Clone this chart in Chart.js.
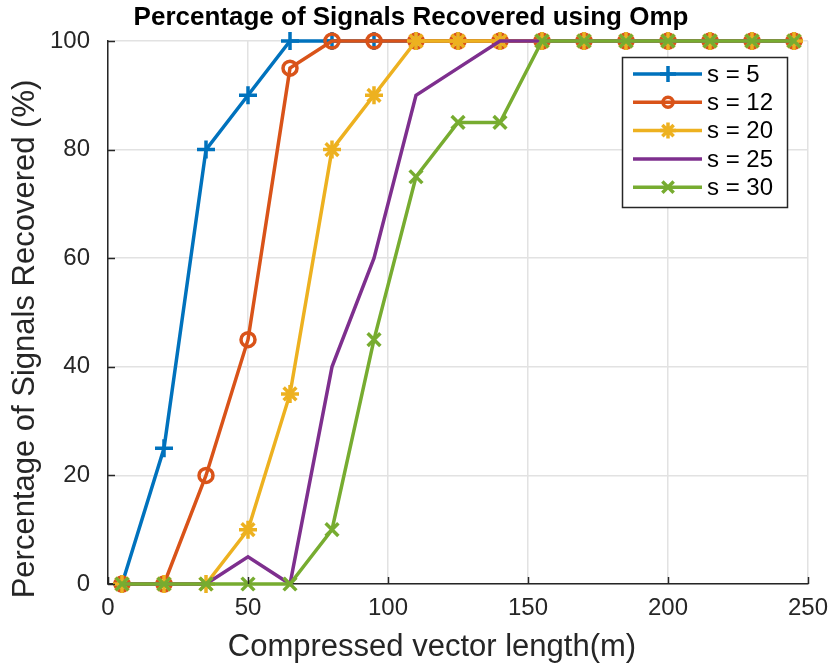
<!DOCTYPE html>
<html>
<head>
<meta charset="utf-8">
<script src="https://cdn.jsdelivr.net/npm/chart.js@4.4.0/dist/chart.umd.min.js"></script>
<style>
  html, body { margin: 0; padding: 0; background: #fff; }
  #wrap { width: 828px; height: 668px; position: relative; }
</style>
</head>
<body>
<div id="wrap"><canvas id="chart" width="828" height="668"></canvas></div>
<script>
// compressed vector length (m)
const mValues = [5, 20, 35, 50, 65, 80, 95, 110, 125, 140, 155, 170, 185, 200, 215, 230, 245];

// percentage of signals recovered, one array per sparsity
const s5  = [0, 25, 80, 90, 100, 100, 100, 100, 100, 100, 100, 100, 100, 100, 100, 100, 100];
const s12 = [0, 0, 20, 45, 95, 100, 100, 100, 100, 100, 100, 100, 100, 100, 100, 100, 100];
const s20 = [0, 0, 0, 10, 35, 80, 90, 100, 100, 100, 100, 100, 100, 100, 100, 100, 100];
const s25 = [0, 0, 0, 5, 0, 40, 60, 90, 95, 100, 100, 100, 100, 100, 100, 100, 100];
const s30 = [0, 0, 0, 0, 0, 10, 45, 75, 85, 85, 100, 100, 100, 100, 100, 100, 100];

const seriesLabels = ['s = 5', 's = 12', 's = 20', 's = 25', 's = 30'];
const seriesData = [s5, s12, s20, s25, s30];
const seriesColors = ['#0072BD', '#D95319', '#EDB120', '#7E2F8E', '#77AC30'];
const seriesMarkers = ['cross', 'circle', 'star', 'line', 'crossRot'];
const seriesRadius = [9, 7, 9, 0, 9];

const xTicks = [0, 50, 100, 150, 200, 250];
const yTicks = [0, 20, 40, 60, 80, 100];

const FONT = '"Liberation Sans", Arial, Helvetica, sans-serif';
const AXIS_COLOR = '#262626';

const datasets = seriesData.map((vals, i) => ({
  label: seriesLabels[i],
  data: vals.map((v, k) => ({ x: mValues[k], y: v })),
  borderColor: seriesColors[i],
  backgroundColor: 'rgba(0,0,0,0)',
  borderWidth: 3.5,
  pointStyle: seriesMarkers[i],
  pointRadius: seriesRadius[i],
  pointBorderWidth: 3.5,
  pointBorderColor: seriesColors[i],
  pointBackgroundColor: 'rgba(0,0,0,0)',
  pointHoverRadius: seriesRadius[i],
  tension: 0,
  clip: false,
  order: seriesData.length - 1 - i   // later series on top, like MATLAB
}));

// titles, inward ticks and the boxed legend
const decorations = {
  id: 'decorations',
  afterDatasetsDraw(chart) {
    const { ctx, chartArea, scales } = chart;
    const x = scales.x, y = scales.y;
    ctx.save();

    // inward tick marks
    ctx.strokeStyle = AXIS_COLOR;
    ctx.lineWidth = 1.5;
    xTicks.forEach(t => {
      const px = Math.round(x.getPixelForValue(t)) + 0.5;
      ctx.beginPath();
      ctx.moveTo(px, chartArea.bottom);
      ctx.lineTo(px, chartArea.bottom - 7);
      ctx.stroke();
    });
    yTicks.forEach(t => {
      const py = Math.round(y.getPixelForValue(t)) + 0.5;
      ctx.beginPath();
      ctx.moveTo(chartArea.left, py);
      ctx.lineTo(chartArea.left + 7, py);
      ctx.stroke();
    });

    // legend box
    const lx = 622, ly = 57, lw = 165, lh = 150;
    ctx.fillStyle = '#fff';
    ctx.fillRect(lx, ly, lw, lh);
    ctx.strokeStyle = AXIS_COLOR;
    ctx.lineWidth = 1.5;
    ctx.strokeRect(lx + 0.5, ly + 0.5, lw, lh);

    ctx.font = '24px ' + FONT;
    ctx.textBaseline = 'middle';
    ctx.textAlign = 'left';
    seriesLabels.forEach((lab, i) => {
      const cy = ly + 17 + i * 28.3;
      ctx.strokeStyle = seriesColors[i];
      ctx.lineWidth = 3.5;
      ctx.beginPath();
      ctx.moveTo(633, cy);
      ctx.lineTo(702, cy);
      ctx.stroke();
      if (seriesRadius[i] > 0) {
        ctx.fillStyle = 'rgba(0,0,0,0)';
        ctx.lineWidth = 3.5;
        Chart.helpers.drawPoint(ctx, {
          pointStyle: seriesMarkers[i],
          radius: seriesRadius[i] === 7 ? 5 : 8,
          rotation: 0,
          borderWidth: 3.5
        }, 668, cy);
      }
      ctx.fillStyle = '#000';
      ctx.fillText(lab, 707, cy + 1);
    });

    // chart title
    ctx.fillStyle = '#000';
    ctx.font = 'bold 26px ' + FONT;
    ctx.textAlign = 'center';
    ctx.textBaseline = 'alphabetic';
    ctx.fillText('Percentage of Signals Recovered using Omp', 411, 25);

    // axis titles
    ctx.fillStyle = AXIS_COLOR;
    ctx.font = '31px ' + FONT;
    ctx.fillText('Compressed vector length(m)', 432, 656);

    ctx.translate(34, 339);
    ctx.rotate(-Math.PI / 2);
    ctx.fillText('Percentage of Signals Recovered (%)', 0, 0);
    ctx.restore();
  }
};

new Chart(document.getElementById('chart'), {
  type: 'line',
  data: { datasets },
  options: {
    responsive: false,
    animation: false,
    devicePixelRatio: 1,
    layout: { padding: { top: 41, right: 20, left: 0, bottom: 0 } },
    plugins: {
      legend: { display: false },
      title: { display: false },
      tooltip: { enabled: false }
    },
    scales: {
      x: {
        type: 'linear',
        min: 0,
        max: 250,
        afterFit: scale => {
          scale.height = 84;
          scale.paddingLeft = 0;
          scale.paddingRight = 0;
        },
        afterBuildTicks: scale => { scale.ticks = xTicks.map(v => ({ value: v })); },
        grid: { color: '#e2e2e2', lineWidth: 1.5, drawTicks: false },
        border: { color: AXIS_COLOR, width: 1.5 },
        ticks: {
          padding: 10,
          color: AXIS_COLOR,
          font: { family: FONT, size: 24 },
          maxRotation: 0
        }
      },
      y: {
        min: 0,
        max: 100,
        afterFit: scale => {
          scale.width = 108;
          scale.paddingTop = 0;
          scale.paddingBottom = 0;
        },
        afterBuildTicks: scale => { scale.ticks = yTicks.map(v => ({ value: v })); },
        grid: { color: '#e2e2e2', lineWidth: 1.5, drawTicks: false },
        border: { color: AXIS_COLOR, width: 1.5 },
        ticks: {
          padding: 18,
          color: AXIS_COLOR,
          font: { family: FONT, size: 24 }
        }
      }
    }
  },
  plugins: [decorations]
});
</script>
</body>
</html>
